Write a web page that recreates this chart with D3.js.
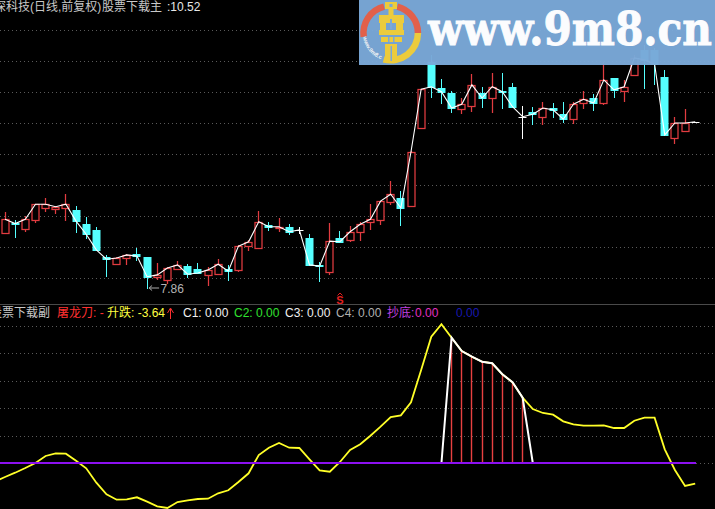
<!DOCTYPE html>
<html><head><meta charset="utf-8">
<style>html,body{margin:0;padding:0;background:#000;overflow:hidden}svg{display:block}</style>
<script src="https://cdn.jsdelivr.net/npm/d3@7"></script>
</head><body><svg id="c" width="715" height="509"></svg>
<script>
const opens=[8.74,8.90,8.80,8.95,9.14,9.12,9.14,9.11,8.88,8.79,8.36,8.24,8.34,8.40,8.36,8.04,7.99,8.16,8.21,8.16,8.07,8.08,8.16,8.15,8.53,8.50,8.87,8.82,8.84,8.79,8.66,8.23,8.12,8.66,8.63,8.76,8.92,8.95,9.24,9.30,9.17,10.42,11.48,11.06,10.98,10.72,10.77,10.98,10.90,11.01,11.08,10.60,10.68,10.60,10.74,10.64,10.56,10.82,10.90,10.82,11.22,11.01,11.27,11.67,11.67,11.24,10.26,10.37,10.52];
const closes=[8.96,8.89,8.96,9.20,9.20,9.16,9.20,8.93,8.72,8.47,8.32,8.34,8.39,8.37,8.04,8.07,8.18,8.23,8.08,8.10,8.15,8.24,8.13,8.53,8.60,8.92,8.84,8.84,8.76,8.79,8.23,8.21,8.61,8.60,8.76,8.88,8.96,9.25,9.36,9.14,10.04,11.04,11.08,11.00,10.74,10.80,11.11,10.90,11.08,11.00,10.76,10.60,10.64,10.74,10.71,10.56,10.80,10.88,10.82,11.19,11.03,11.08,11.54,11.51,11.44,10.31,10.50,10.50,10.52];
const highs=[9.08,8.95,9.01,9.20,9.30,9.17,9.36,9.17,9.00,8.84,8.39,8.36,8.40,8.50,8.36,8.26,8.20,8.29,8.24,8.26,8.20,8.32,8.23,8.55,8.63,9.09,8.92,8.98,8.88,8.84,8.72,8.28,8.90,8.77,8.85,8.92,9.20,9.25,9.57,9.41,10.05,11.04,11.59,11.20,11.01,10.90,11.28,11.08,11.30,11.30,11.14,10.77,10.76,10.84,10.82,10.84,10.84,11.01,10.96,11.48,11.22,11.19,11.59,11.75,11.70,11.35,10.60,10.72,10.52];
const lows=[8.74,8.68,8.77,8.92,9.09,9.06,8.95,8.76,8.66,8.47,8.05,8.24,8.24,8.31,7.86,8.00,7.94,8.16,8.04,8.10,7.91,8.08,7.99,8.13,8.47,8.50,8.79,8.77,8.72,8.74,8.23,7.97,8.08,8.60,8.61,8.63,8.80,8.88,9.20,8.87,9.17,10.42,10.92,10.82,10.68,10.66,10.69,10.76,10.68,10.74,10.76,10.26,10.48,10.48,10.60,10.52,10.50,10.74,10.71,10.80,10.92,10.85,11.27,11.06,11.12,10.31,10.18,10.37,10.52];
const priceGrid=[8.02,8.52,9.01,9.51,10.00,10.50,11.00,11.49,11.98];
const indicatorBefore=-18.5;
const indicator=[-14,-9.7,-5,0,7,9.7,9.3,2.3,-5.3,-19.7,-31.3,-36.7,-36.3,-34.3,-38.7,-43.3,-45,-39,-37.3,-36,-35.7,-30.3,-27.3,-19,-10.3,8,15.3,20,15.3,15,3.7,-7.3,-8.7,1,13,18.7,27.3,36.3,46,47.7,60.7,93,126.3,138.7,125.3,112,106.3,101.3,99.7,88.7,80.7,65.3,54,50,48.3,41.7,38.7,37.3,37.3,37.7,35,35,42.3,45.3,45.3,13.7,-7,-23,-20.7];
const signalIdx=[43,44,45,46,47,48,49,50,51,52];
const signalVal=[0,125.3,112,106.3,101.3,99.7,88.7,80.7,65.3,0];
const stickIdx=[44,45,46,47,48,49,50,51];
const indicatorGrid=[27.4,54.8,82.2,109.6,137];
const title1="深科技(日线,前复权)";
const title2="股票下载主";
const title3=":10.52";
const lowLabel="7.86";
const subLegend=[
 {t:"股票下载副",c:"#c8c8c8"},{t:"屠龙刀: -",c:"#ff3030"},{t:"升跌: -3.64",c:"#ffff40"},
 {t:"C1: 0.00",c:"#f0f0f0"},{t:"C2: 0.00",c:"#30e030"},{t:"C3: 0.00",c:"#f0f0f0"},
 {t:"C4: 0.00",c:"#b0b0b0"},{t:"抄底:",c:"#c040e0"},{t:"0.00",c:"#e030c0"},{t:"0.00",c:"#1818b0"}];
const legendX=[-10,57,107,183,234,285,336,387,415,456];
const bannerText="www.9m8.cn";

const FONT='"Liberation Sans","Noto Sans CJK SC",sans-serif';
const svg=d3.select("#c");
svg.append("rect").attr("width",715).attr("height",509).attr("fill","#000");

const idx=d3.range(opens.length);
const x=d3.scaleLinear().domain([0,68]).range([5,695.2]);
const y=d3.scaleLinear().domain([7.86,10.516]).range([288,122]);
const yI=d3.scaleLinear().domain([0,137]).range([463,326]);
const px=v=>Math.round(v);
const pc=v=>Math.floor(v)+.5;

const grid=svg.append("g").attr("stroke","#5a5a5a").attr("stroke-dasharray","1 3").attr("stroke-width",1);
priceGrid.forEach(p=>grid.append("line").attr("x1",0).attr("x2",715).attr("y1",px(y(p))+.5).attr("y2",px(y(p))+.5));
indicatorGrid.forEach(v=>grid.append("line").attr("x1",0).attr("x2",715).attr("y1",px(yI(v))+.5).attr("y2",px(yI(v))+.5));
grid.append("line").attr("x1",696).attr("x2",715).attr("y1",463.5).attr("y2",463.5);

const RED="#e23c40",CY="#55ffff";
const colr=i=>closes[i]>opens[i]?RED:(closes[i]<opens[i]?CY:"#ffffff");
const cand=svg.append("g");
idx.forEach(i=>{
  const cx=pc(x(i)),c=colr(i);
  const w=closes[i]>opens[i]?1.25:1;
  const t=px(y(Math.max(opens[i],closes[i]))),b=px(y(Math.min(opens[i],closes[i])));
  const up=closes[i]>opens[i];
  cand.append("line").attr("x1",cx).attr("x2",cx).attr("y1",px(y(highs[i]))).attr("y2",up?t:px(y(lows[i]))+1).attr("stroke",c).attr("stroke-width",w);
  if(up) cand.append("line").attr("x1",cx).attr("x2",cx).attr("y1",b).attr("y2",px(y(lows[i]))+1).attr("stroke",c).attr("stroke-width",w);
  if(b-t<1){cand.append("line").attr("x1",cx-4).attr("x2",cx+4).attr("y1",t+.5).attr("y2",t+.5).attr("stroke",c);}
  else if(up){cand.append("rect").attr("x",cx-3.5).attr("y",t+.5).attr("width",7).attr("height",b-t).attr("fill","#000").attr("stroke",c).attr("stroke-width",w);}
  else cand.append("rect").attr("x",cx-4).attr("y",t).attr("width",8).attr("height",b-t+1).attr("fill",c);
});
svg.append("path").datum(idx).attr("fill","none").attr("stroke","#fff").attr("stroke-width",1.1)
  .attr("d",d3.line().x(i=>x(i)).y(i=>y(closes[i])));

// low marker
const lowI=d3.least(idx,i=>lows[i]),lx=x(lowI),ly=y(lows[lowI]);
svg.append("path").attr("d",`M${lx+2} ${ly}h10M${lx+2} ${ly}l3 -2.5M${lx+2} ${ly}l3 2.5`).attr("stroke","#aaa").attr("fill","none");
svg.append("text").attr("x",lx+13.5).attr("y",ly+4.5).attr("fill","#b4b4b4").attr("font-family",FONT).attr("font-size",12).text(lowLabel);

// S marker
svg.append("path").attr("d","M337.5 295.5l2.5 -2.5l2.5 2.5").attr("stroke","#e02020").attr("fill","none");
svg.append("text").attr("x",340).attr("y",304).attr("text-anchor","middle").attr("fill","#e02020").attr("font-family",FONT).attr("font-weight","bold").attr("font-size",11).text("S");

// divider
svg.append("line").attr("x1",0).attr("x2",715).attr("y1",304.5).attr("y2",304.5).attr("stroke","#4a4a4a");

// titles
const tt=svg.append("g").attr("font-family",FONT).attr("font-size",12);
tt.append("text").attr("x",-6).attr("y",11).attr("fill","#c8c8c8").text(title1);
tt.append("text").attr("x",102).attr("y",11).attr("fill","#c8c8c8").text(title2);
tt.append("text").attr("x",167).attr("y",11).attr("fill","#e8e8e8").text(title3);
subLegend.forEach((d,i)=>tt.append("text").attr("x",legendX[i]).attr("y",317).attr("fill",d.c).text(d.t));
svg.append("path").attr("d","M170.5 319V309M170.5 308l-3 5M170.5 308l3 5").attr("stroke","#ff3030").attr("fill","none");

// indicator
svg.append("line").attr("x1",0).attr("x2",696).attr("y1",463).attr("y2",463).attr("stroke","#8c10f0").attr("stroke-width",2);
const stk=svg.append("g").attr("stroke","#e84040").attr("stroke-width",1.4);
stickIdx.forEach(i=>stk.append("line").attr("x1",pc(x(i))).attr("x2",pc(x(i))).attr("y1",yI(0)).attr("y2",yI(indicator[i])));
svg.append("path").datum([-1].concat(idx)).attr("fill","none").attr("stroke","#ffff28").attr("stroke-width",1.8)
  .attr("d",d3.line().x(i=>x(i)).y(i=>yI(i<0?indicatorBefore:indicator[i])));
svg.append("path").datum(signalIdx).attr("fill","none").attr("stroke","#fff").attr("stroke-width",2)
  .attr("d",d3.line().x(i=>x(i)).y(i=>yI(signalVal[signalIdx.indexOf(i)])));
svg.append("line").attr("x1",0).attr("x2",696).attr("y1",463).attr("y2",463).attr("stroke","#8c10f0").attr("stroke-width",2);

// banner
const bn=svg.append("g");
bn.append("rect").attr("x",359).attr("y",0).attr("width",356).attr("height",65).attr("fill","#7aa8d8").attr("fill-opacity",.97);
const cx=390.7,cy=33,arc=d3.arc().innerRadius(24).outerRadius(30.5);
const deg=d=>d*Math.PI/180;
const ring=bn.append("g").attr("transform",`translate(${cx},${cy})`);
ring.append("path").attr("fill","#e2604a").attr("d",arc({startAngle:deg(-98),endAngle:deg(-14)}));
ring.append("path").attr("fill","#e2604a").attr("d",arc({startAngle:deg(14),endAngle:deg(90)}));
ring.append("path").attr("fill","#eccb3c").attr("d",arc({startAngle:deg(90),endAngle:deg(195)}));
ring.append("path").attr("id","ringText").attr("fill","none").attr("d","M-27.5 4A27.8 27.8 0 0 0 -9 26.5");
ring.append("text").attr("fill","#f4f4f4").attr("font-family",FONT).attr("font-weight","bold").attr("font-size",5.5).append("textPath").attr("href","#ringText").text(bannerText);
// logo emblem
const emblem=[[30,2,12,7],[33.5,8,5,9],[24,15,25,8],[25,23,6,7],[41,23,7,7],[24,30,25,5],[26,37,21,5],[30,44,12,19]];
const eg=bn.append("g").attr("transform","translate(355,0)").attr("fill","#eccb3c");
emblem.forEach(r=>eg.append("rect").attr("x",r[0]).attr("y",r[1]).attr("width",r[2]).attr("height",r[3]));
const slits=[[34.5,4,3,3],[35,19,2,10],[33,37,1.5,5],[38,37,1.5,5],[35.5,46,1.5,15]];
slits.forEach(r=>eg.append("rect").attr("x",r[0]).attr("y",r[1]).attr("width",r[2]).attr("height",r[3]).attr("fill","#7aa8d8"));
bn.append("text").attr("x",428).attr("y",45).attr("textLength",284).attr("lengthAdjust","spacingAndGlyphs").attr("fill","#fbfcfe").attr("stroke","#fbfcfe").attr("stroke-width",.9).attr("font-family",'"DejaVu Serif"').attr("font-weight","bold").attr("font-size",47).text(bannerText);
</script></body></html>
